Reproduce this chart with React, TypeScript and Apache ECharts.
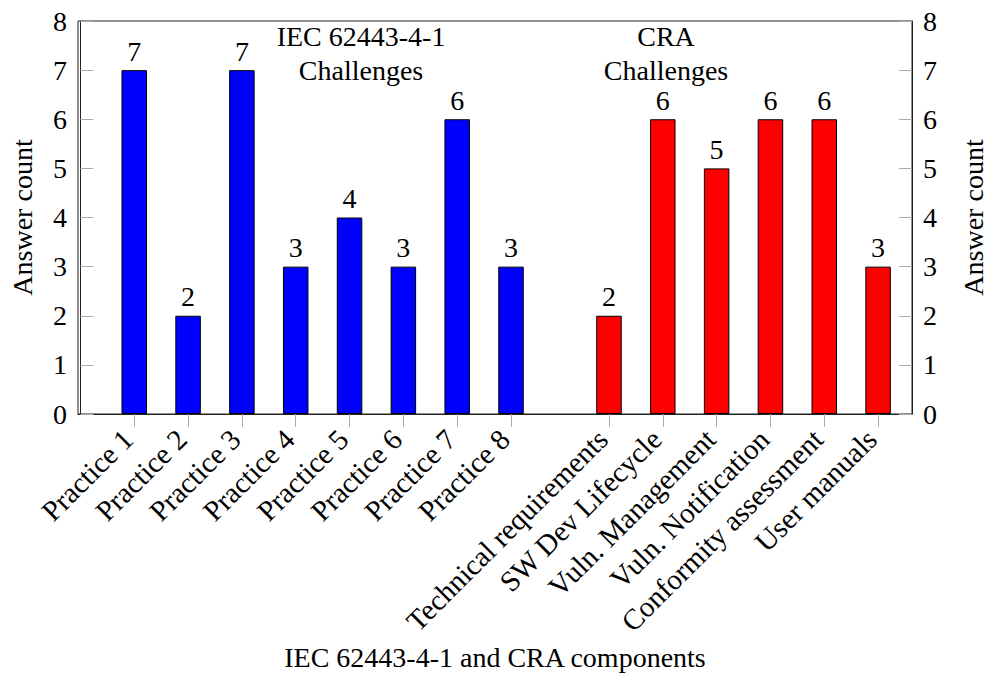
import React, { useEffect, useRef } from "react";
import * as echarts from "echarts";

const practiceNames = [
  "Practice 1",
  "Practice 2",
  "Practice 3",
  "Practice 4",
  "Practice 5",
  "Practice 6",
  "Practice 7",
  "Practice 8",
];
const practiceCounts = [7, 2, 7, 3, 4, 3, 6, 3];

const craNames = [
  "Technical requirements",
  "SW Dev Lifecycle",
  "Vuln. Management",
  "Vuln. Notification",
  "Conformity assessment",
  "User manuals",
];
const craCounts = [2, 6, 5, 6, 6, 3];

const yTicks = [0, 1, 2, 3, 4, 5, 6, 7, 8];

// layout: slot positions on the x value axis
const CRA_START = 9.82;
const X_MIN = -0.045;
const X_MAX = 15.45;

const FONT = "'Liberation Serif', 'DejaVu Serif', serif";

export default function App() {
  const ref = useRef<HTMLDivElement>(null);

  useEffect(() => {
    if (!ref.current) return;
    const chart = echarts.init(ref.current, undefined, { renderer: "svg" });

    const practicePos = practiceNames.map((_, i) => i + 1);
    const craPos = craNames.map((_, i) => CRA_START + i);
    const allPos = [...practicePos, ...craPos];
    const allNames = [...practiceNames, ...craNames];

    const nameAt = (v: number) => {
      const idx = allPos.findIndex((p) => Math.abs(p - v) < 1e-6);
      return idx >= 0 ? allNames[idx] : "";
    };

    const yAxisCommon = {
      type: "value",
      min: yTicks[0],
      max: yTicks[yTicks.length - 1],
      interval: 1,
      name: "Answer count",
      nameLocation: "middle",
      nameRotate: 90,
      nameTextStyle: { fontSize: 28, color: "#000", fontFamily: FONT },
      axisLine: { show: true, lineStyle: { color: "#222", width: 1 } },
      axisTick: { show: true, inside: true, length: 13, lineStyle: { color: "#aaa" } },
      axisLabel: { fontSize: 28, color: "#000", fontFamily: FONT, margin: 11 },
      splitLine: { show: false },
    };

    chart.setOption({
      animation: false,
      textStyle: { fontFamily: FONT },
      grid: {
        left: 78,
        right: 78,
        top: 21,
        bottom: 279,
        show: true,
        borderColor: "#222",
        borderWidth: 1,
        backgroundColor: "transparent",
      },
      xAxis: {
        type: "value",
        min: X_MIN,
        max: X_MAX,
        name: "IEC 62443-4-1 and CRA components",
        nameLocation: "middle",
        nameGap: 228,
        nameTextStyle: { fontSize: 28, color: "#000", fontFamily: FONT },
        axisLine: { show: true, onZero: false, lineStyle: { color: "#222", width: 1 } },
        axisTick: {
          show: true,
          length: 13,
          customValues: allPos,
          lineStyle: { color: "#aaa" },
        },
        axisLabel: {
          customValues: allPos,
          rotate: 45,
          fontSize: 29,
          color: "#000",
          fontFamily: FONT,
          margin: 14,
          padding: [0, 9, 0, 0],
          formatter: (v: number) => nameAt(v),
        },
        splitLine: { show: false },
      },
      yAxis: [
        { ...yAxisCommon, position: "left", nameGap: 42 },
        { ...yAxisCommon, position: "right", nameGap: 47 },
      ],
      graphic: [
        {
          type: "text",
          x: 361,
          y: 19,
          style: {
            text: "IEC 62443-4-1\nChallenges",
            fontSize: 28,
            lineHeight: 34,
            fontFamily: FONT,
            fill: "#000",
            align: "center",
            verticalAlign: "top",
          },
        },
        {
          type: "text",
          x: 666,
          y: 19,
          style: {
            text: "CRA\nChallenges",
            fontSize: 28,
            lineHeight: 34,
            fontFamily: FONT,
            fill: "#000",
            align: "center",
            verticalAlign: "top",
          },
        },
      ],
      series: [
        {
          type: "bar",
          name: "IEC 62443-4-1",
          yAxisIndex: 0,
          barWidth: 25.5,
          barGap: "-100%",
          data: practiceCounts.map((v, i) => [practicePos[i], v]),
          itemStyle: { color: "#0000ff", borderColor: "#000", borderWidth: 1 },
          label: {
            show: true,
            position: "top",
            distance: 5,
            fontSize: 28,
            color: "#000",
            fontFamily: FONT,
            formatter: (p: any) => String(p.value[1]),
          },
        },
        {
          type: "bar",
          name: "CRA",
          yAxisIndex: 0,
          barWidth: 25.5,
          barGap: "-100%",
          data: craCounts.map((v, i) => [craPos[i], v]),
          itemStyle: { color: "#ff0000", borderColor: "#000", borderWidth: 1 },
          label: {
            show: true,
            position: "top",
            distance: 5,
            fontSize: 28,
            color: "#000",
            fontFamily: FONT,
            formatter: (p: any) => String(p.value[1]),
          },
        },
      ],
    });

    return () => chart.dispose();
  }, []);

  return (
    <div
      ref={ref}
      style={{ position: "absolute", left: 0, top: 0, width: 995, height: 693, background: "#fff" }}
    />
  );
}
